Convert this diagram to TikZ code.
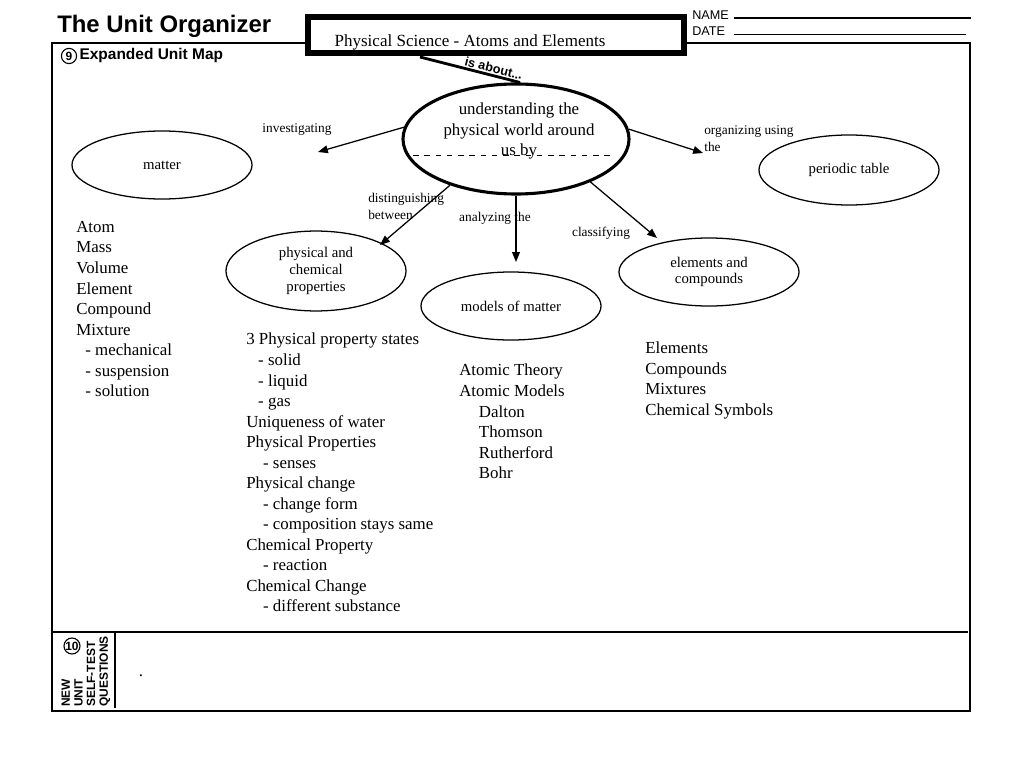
\documentclass[tikz,border=0pt]{standalone}
\usepackage{fontspec}
\setmainfont{Liberation Serif}
\setsansfont{Liberation Sans}
\usepackage{tikz}
\usetikzlibrary{arrows.meta,positioning,shapes.geometric}

\begin{document}
\begin{tikzpicture}[
    x=0.025cm, y=-0.025cm,
    oval/.style={ellipse, draw, line width=0.9pt, minimum width=4.5cm, minimum height=1.7cm, align=center, font=\fontsize{10.5}{12}\selectfont},
    bigoval/.style={ellipse, draw, line width=2.2pt, minimum width=5.65cm, minimum height=2.75cm},
    arrow/.style={-{Triangle[length=7pt,width=5.5pt]}, line width=0.9pt},
    linktext/.style={font=\fontsize{9.5}{12}\selectfont, align=left, inner sep=0pt},
    listtext/.style={font=\fontsize{12}{14.6}\selectfont, align=left, anchor=north west, inner sep=0pt},
    numcircle/.style={circle, draw, line width=0.8pt, inner sep=0pt, font=\sffamily\bfseries\fontsize{8.5}{9}\selectfont}
]
\useasboundingbox (0,0) rectangle (1024,768);

% Frame
\draw[line width=2pt] (52,43) rectangle (970,711);
\draw[line width=2pt] (52,632) -- (968,632);
\draw[line width=1pt] (115,632) -- (115,708);

% Header
\node[anchor=base west, inner sep=0pt, font=\sffamily\bfseries\fontsize{17}{20}\selectfont] (title) at (57,33) {The Unit Organizer};
\node[draw, fill=white, line width=4.3pt, minimum width=9.4cm, minimum height=0.9cm] (topbox) at (496,35) {};
\node[font=\fontsize{12.1}{14}\selectfont, inner sep=0pt] (topic) at (470,42.5) {Physical Science - Atoms and Elements};

\node[anchor=base west, inner sep=0pt, font=\sffamily\fontsize{9}{10}\selectfont] (namelbl) at (692,19.5) {NAME};
\draw[line width=0.8pt] (namelbl.base east) ++(5,-1.5) -- ++(237,0);
\node[anchor=base west, inner sep=0pt, font=\sffamily\fontsize{9}{10}\selectfont] (datelbl) at (692,35.5) {DATE};
\draw[line width=0.8pt] (datelbl.base east) ++(9,-1) -- ++(232,0);

% Section 9
\node[numcircle, minimum size=0.38cm] (nine) at (69,56) {9};
\node[anchor=west, inner sep=0pt, font=\sffamily\bfseries\fontsize{11}{13}\selectfont, right=1.5pt of nine] (maplbl) {Expanded Unit Map};

% Central idea
\node[bigoval] (main) at (516,139) {};
\node[align=center, font=\fontsize{12}{14.6}\selectfont, inner sep=0pt] (mainlbl) at (519,131) {understanding the\\physical world around\\us by};
\draw[dashed, dash pattern=on 4pt off 4pt, line width=0.6pt] (413,155) -- (612,155);

\coordinate (aboutA) at (420,57);
\draw[line width=2pt] (aboutA) -- node[sloped, above, pos=0.72, inner sep=1pt, font=\sffamily\bfseries\fontsize{9}{10}\selectfont] {is about...} (main.86);

% Ovals
\node[oval] (matter) at (162,165) {matter};
\node[oval, minimum height=1.75cm] (ptable) at (849,170) {periodic table};
\node[oval] (props) at (316,271) {physical and\\chemical\\properties};
\node[oval] (models) at (511,306) {models of matter};
\node[oval] (elems) at (709,272) {elements and\\compounds};

% Links
\coordinate (invEnd) at (318,152);
\coordinate (orgEnd) at (703,153);
\coordinate (disEnd) at (380,245);
\coordinate (anaEnd) at (516,262);
\coordinate (claEnd) at (657,238);
\draw[arrow] (main.174) -- (invEnd);
\draw[arrow] (main.5) -- (orgEnd);
\draw[arrow] (main.215) -- (disEnd);
\draw[arrow] (main.south) -- (anaEnd);
\draw[arrow] (main.-30) -- (claEnd);

\node[linktext] (invlbl) at (297,130) {investigating};
\node[linktext, anchor=west] (orglbl) at (704,138.5) {organizing using\\the};
\node[linktext, anchor=west] (dislbl) at (368,206.5) {distinguishing\\between};
\node[linktext] (analbl) at (495,218) {analyzing the};
\node[linktext] (clalbl) at (601,233) {classifying};

% Details
\node[listtext] (mattlist) at (76,221) {Atom\\Mass\\Volume\\Element\\Compound\\Mixture\\\hspace*{6.5pt}- mechanical\\\hspace*{6.5pt}- suspension\\\hspace*{6.5pt}- solution};
\node[listtext] (proplist) at (246,333) {3 Physical property states\\\hspace*{8.5pt}- solid\\\hspace*{8.5pt}- liquid\\\hspace*{8.5pt}- gas\\Uniqueness of water\\Physical Properties\\\hspace*{12pt}- senses\\Physical change\\\hspace*{12pt}- change form\\\hspace*{12pt}- composition stays same\\Chemical Property\\\hspace*{12pt}- reaction\\Chemical Change\\\hspace*{12pt}- different substance};
\node[listtext] (modlist) at (459,364) {Atomic Theory\\Atomic Models\\\hspace*{14pt}Dalton\\\hspace*{14pt}Thomson\\\hspace*{14pt}Rutherford\\\hspace*{14pt}Bohr};
\node[listtext] (elemlist) at (645,341.5) {Elements\\Compounds\\Mixtures\\Chemical Symbols};

% Section 10
\node[numcircle, minimum size=0.4cm] (ten) at (72,646) {10};
\node[rotate=90, anchor=south west, align=left, inner sep=0pt, font=\sffamily\bfseries\fontsize{8.5}{9}\selectfont] (selftest) at (110.5,707) {NEW\\UNIT\\SELF-TEST\\QUESTIONS};
\node[inner sep=0pt, font=\fontsize{12}{14}\selectfont] (dot) at (141,676) {.};

\end{tikzpicture}
\end{document}
